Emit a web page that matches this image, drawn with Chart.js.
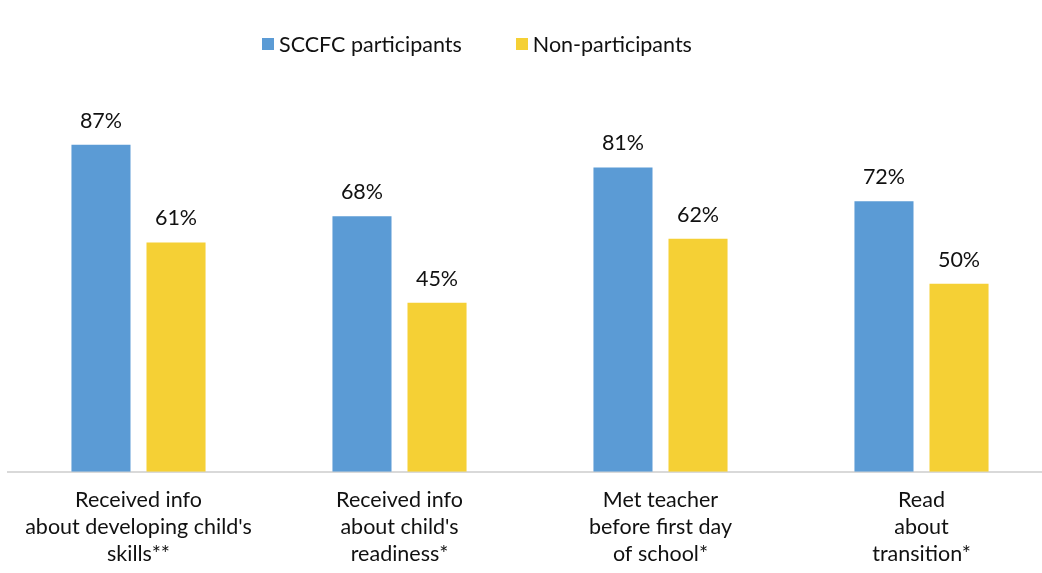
<!DOCTYPE html>
<html>
<head>
<meta charset="utf-8">
<script src="https://cdn.jsdelivr.net/npm/chart.js@4"></script>
<style>
  html, body { margin: 0; padding: 0; background: #fff; overflow: hidden; }
  #wrap { position: relative; width: 1052px; height: 583px; }
  #legend { position: absolute; top: 31px; left: 262px; display: flex; font-family: Lato, sans-serif; font-size: 21.5px; color: #111; }
  .item { display: flex; align-items: center; }
  .item + .item { margin-left: 54px; }
  .box { width: 12px; height: 12px; margin-right: 5px; }
</style>
</head>
<body>
<div id="wrap">
  <canvas id="chart" width="1052" height="583"></canvas>
  <div id="legend"></div>
</div>
<script>
// Survey results, percent of parents
let categories = [
  ["Received info", "about developing child's", "skills**"],
  ["Received info", "about child's", "readiness*"],
  ["Met teacher", "before first day", "of school*"],
  ["Read", "about", "transition*"]
];
let participants = [87, 68, 81, 72];
let nonParticipants = [61, 45, 62, 50];
let seriesNames = ["SCCFC participants", "Non-participants"];
let colors = ["#5B9BD5", "#F5D035"];

// legend built as html so it can sit left of centre
let legend = document.getElementById("legend");
seriesNames.forEach((name, i) => {
  let item = document.createElement("div");
  item.className = "item";
  let box = document.createElement("span");
  box.className = "box";
  box.style.background = colors[i];
  let label = document.createElement("span");
  label.textContent = name;
  item.appendChild(box);
  item.appendChild(label);
  legend.appendChild(item);
});

// percent labels above every bar
const valueLabels = {
  id: "valueLabels",
  afterDatasetsDraw(chart){
    let ctx = chart.ctx;
    ctx.save();
    ctx.font = "21.5px Lato, sans-serif";
    ctx.fillStyle = "#111";
    ctx.textAlign = "center";
    ctx.textBaseline = "middle";
    chart.data.datasets.forEach((ds, i) => {
      chart.getDatasetMeta(i).data.forEach((bar, j) => {
        ctx.fillText(ds.data[j] + "%", bar.x, bar.y - 24);
      });
    });
    ctx.restore();
  }
};

new Chart(document.getElementById("chart"), {
  type: "bar",
  data: {
    labels: categories,
    datasets: [
      { label: seriesNames[0], data: participants, backgroundColor: colors[0] },
      { label: seriesNames[1], data: nonParticipants, backgroundColor: colors[1] }
    ]
  },
  options: {
    responsive: false,
    animation: false,
    datasets: {
      bar: { categoryPercentage: 0.575, barPercentage: 0.787 }
    },
    layout: { padding: { top: 96, left: 8, right: 0, bottom: 8 } },
    plugins: {
      legend: { display: false },
      tooltip: { enabled: false }
    },
    scales: {
      x: {
        grid: { display: false },
        border: { display: true, color: "#d9d9d9", width: 2 },
        ticks: {
          color: "#111",
          padding: 7,
          maxRotation: 0,
          autoSkip: false,
          font: { family: "Lato, sans-serif", size: 21.5, lineHeight: 1.26 }
        }
      },
      y: {
        display: false,
        min: 0,
        max: 100
      }
    }
  },
  plugins: [valueLabels]
});
</script>
</body>
</html>
